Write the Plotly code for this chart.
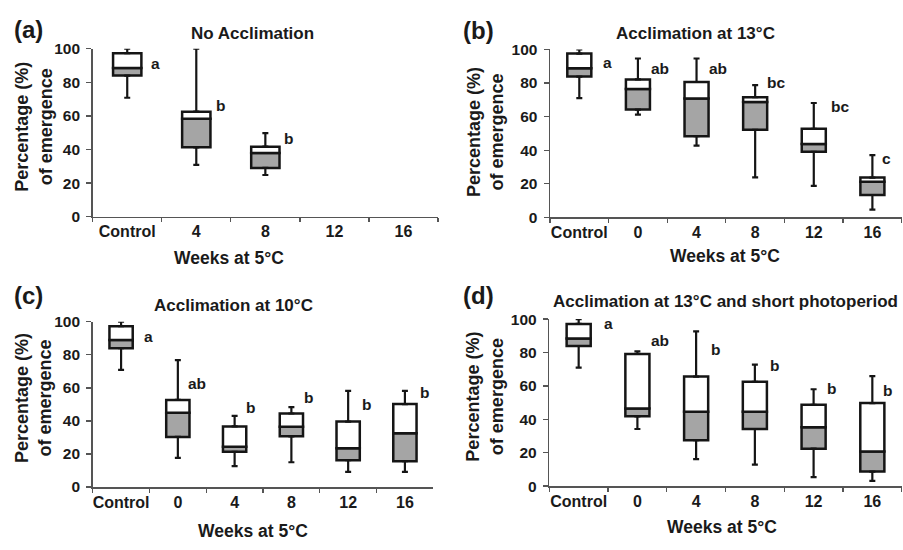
import plotly.graph_objects as go

# ---------------- data ----------------
cats_a = ["Control", "4", "8", "12", "16"]
cats_bcd = ["Control", "0", "4", "8", "12", "16"]

# Panel (a) No Acclimation (only Control, 4, 8 have data)
a_x = ["Control", "4", "8"]
a_max = [100, 100, 49.8]
a_q3 = [97.3, 62.5, 41.7]
a_med = [88.5, 58.3, 37.9]
a_q1 = [84.0, 41.3, 29.0]
a_min = [70.8, 30.8, 24.8]
a_letters = ["a", "b", "b"]

# Panel (b) Acclimation at 13°C
b_max = [100, 94.6, 94.6, 78.7, 68.1, 37.1]
b_q3 = [97.5, 82.1, 80.6, 71.5, 52.7, 23.7]
b_med = [88.8, 76.5, 70.8, 68.7, 43.7, 21.2]
b_q1 = [83.8, 64.2, 48.3, 52.1, 39.0, 13.3]
b_min = [71.0, 61.2, 42.7, 23.8, 18.7, 4.6]
b_letters = ["a", "ab", "ab", "bc", "bc", "c"]

# Panel (c) Acclimation at 10°C
c_max = [100, 76.8, 43.0, 48.4, 58.2, 58.2]
c_q3 = [97.3, 52.7, 36.7, 44.5, 39.6, 50.2]
c_med = [88.9, 44.9, 24.4, 36.5, 23.4, 32.6]
c_q1 = [84.0, 30.3, 21.3, 30.7, 16.2, 15.6]
c_min = [70.9, 17.6, 12.7, 15.0, 9.2, 9.2]
c_letters = ["a", "ab", "b", "b", "b", "b"]

# Panel (d) Acclimation at 13°C and short photoperiod
d_max = [100, 80.7, 92.6, 72.7, 58.0, 65.8]
d_q3 = [97.1, 79.1, 65.6, 62.5, 48.7, 49.7]
d_med = [88.4, 46.4, 44.5, 44.5, 35.2, 20.7]
d_q1 = [83.9, 41.8, 27.5, 34.2, 22.4, 8.7]
d_min = [71.0, 34.2, 16.2, 12.8, 5.4, 3.1]
d_letters = ["a", "ab", "b", "b", "b", "b"]

# letter label placement (offset from category centre, and height)
a_let_dx = [0.31, 0.25, 0.24]
a_let_y = [91, 66, 46.3]
b_let_dx = [0.37, 0.19, 0.18, 0.17, 0.26, 0.13]
b_let_y = [92.3, 88.5, 88.5, 80.2, 66, 35.2]
c_let_dx = [0.36, 0.15, 0.17, 0.19, 0.21, 0.23]
c_let_y = [90.8, 62.5, 47.9, 54.1, 49.8, 57.2]
d_let_dx = [0.40, 0.20, 0.22, 0.22, 0.20, 0.14]
d_let_y = [97.5, 87, 82, 72, 58.4, 57.4]

titles = ["No Acclimation", "Acclimation at 13°C", "Acclimation at 10°C",
          "Acclimation at 13°C and short photoperiod"]
panel_tags = ["(a)", "(b)", "(c)", "(d)"]
x_title = "Weeks at 5°C"
y_title = "Percentage (%)<br>of emergence"
y_ticks = [0, 20, 40, 60, 80, 100]

# ---------------- style / layout ----------------
W, H = 903, 550
FONT = "Liberation Sans, Arial, Helvetica, sans-serif"
TXT = "#1a1a1a"
GRAY = "#a5a5a5"
BOX_LINE = "#151515"


def px(x):
    return x / W


def py(y):
    return 1 - y / H


panels = [
    dict(x=a_x, cats=cats_a, mx=a_max, q3=a_q3, med=a_med, q1=a_q1, mn=a_min,
         letters=a_letters, ldx=a_let_dx, ly=a_let_y,
         dom_x=(92.7, 438.0), dom_y=(41.0, 214.3),
         title=(252, 25, "center"), tag_pos=(28, 21), xt_pos=(229, 257), yt_pos=(33.5, 122)),
    dict(x=cats_bcd, cats=cats_bcd, mx=b_max, q3=b_q3, med=b_med, q1=b_q1, mn=b_min,
         letters=b_letters, ldx=b_let_dx, ly=b_let_y,
         dom_x=(550.0, 901.7), dom_y=(41.7, 215.0),
         title=(695, 25, "center"), tag_pos=(479, 22), xt_pos=(725, 255), yt_pos=(485, 127)),
    dict(x=cats_bcd, cats=cats_bcd, mx=c_max, q3=c_q3, med=c_med, q1=c_q1, mn=c_min,
         letters=c_letters, ldx=c_let_dx, ly=c_let_y,
         dom_x=(92.7, 433.3), dom_y=(322.7, 493.3),
         title=(234, 306, "center"), tag_pos=(28, 296), xt_pos=(253, 539), yt_pos=(33.5, 402)),
    dict(x=cats_bcd, cats=cats_bcd, mx=d_max, q3=d_q3, med=d_med, q1=d_q1, mn=d_min,
         letters=d_letters, ldx=d_let_dx, ly=d_let_y,
         dom_x=(549.3, 901.7), dom_y=(320.0, 492.3),
         title=(725, 301.5, "center"), tag_pos=(479, 296), xt_pos=(722, 535), yt_pos=(485, 400)),
]

fig = go.Figure()
layout = dict(
    width=W, height=H, margin=dict(l=0, r=0, t=0, b=0),
    paper_bgcolor="white", plot_bgcolor="white",
    showlegend=False, barmode="overlay",
    font=dict(family=FONT, color=TXT, size=15, weight="bold"),
)
annotations = []

for i, p in enumerate(panels):
    n = "" if i == 0 else str(i + 1)
    xa, ya = "x" + n, "y" + n
    cat_idx = {c: k for k, c in enumerate(p["cats"])}

    lower_h = [m - q for m, q in zip(p["med"], p["q1"])]
    upper_h = [q - m for q, m in zip(p["q3"], p["med"])]
    # lower half of box (Q1 -> median), grey
    fig.add_trace(go.Bar(x=p["x"], y=lower_h, base=p["q1"], width=0.41,
                         marker=dict(color=GRAY, line=dict(color=BOX_LINE, width=2.5)),
                         xaxis=xa, yaxis=ya, hoverinfo="skip"))
    # upper half of box (median -> Q3), white
    fig.add_trace(go.Bar(x=p["x"], y=upper_h, base=p["med"], width=0.41,
                         marker=dict(color="white", line=dict(color=BOX_LINE, width=2.5)),
                         xaxis=xa, yaxis=ya, hoverinfo="skip"))
    # upper whisker
    fig.add_trace(go.Scatter(
        x=p["x"], y=p["q3"], mode="markers",
        marker=dict(size=1, color="rgba(0,0,0,0)"),
        error_y=dict(type="data", symmetric=False,
                     array=[a - b for a, b in zip(p["mx"], p["q3"])],
                     arrayminus=[0] * len(p["x"]),
                     color=BOX_LINE, thickness=2.2, width=3),
        cliponaxis=False, xaxis=xa, yaxis=ya, hoverinfo="skip"))
    # lower whisker
    fig.add_trace(go.Scatter(
        x=p["x"], y=p["q1"], mode="markers",
        marker=dict(size=1, color="rgba(0,0,0,0)"),
        error_y=dict(type="data", symmetric=False,
                     array=[0] * len(p["x"]),
                     arrayminus=[a - b for a, b in zip(p["q1"], p["mn"])],
                     color=BOX_LINE, thickness=2.2, width=3),
        cliponaxis=False, xaxis=xa, yaxis=ya, hoverinfo="skip"))

    x0, x1 = p["dom_x"]
    yt, yb = p["dom_y"]
    layout["xaxis" + n] = dict(
        domain=[px(x0), px(x1)], anchor=ya, type="category",
        categoryorder="array", categoryarray=p["cats"],
        range=[-0.5, len(p["cats"]) - 0.5],
        tickson="boundaries", ticks="outside", ticklen=4, tickwidth=1.3,
        tickangle=0,
        tickcolor="#555", showline=True, linecolor="#555", linewidth=1.5,
        showgrid=False, zeroline=False, fixedrange=True,
        tickfont=dict(family=FONT, size=16, color=TXT, weight="bold"),
    )
    layout["yaxis" + n] = dict(
        domain=[py(yb), py(yt)], anchor=xa, range=[0, 100],
        tickmode="array", tickvals=y_ticks, ticks="outside", ticklen=5,
        tickwidth=1.3, tickcolor="#555", showline=True, linecolor="#555",
        linewidth=1.5, showgrid=False, zeroline=False, fixedrange=True,
        ticklabelstandoff=3,
        tickfont=dict(family=FONT, size=15.5, color=TXT, weight="bold"),
    )

    # significance letters
    for k, xc in enumerate(p["x"]):
        annotations.append(dict(
            x=cat_idx[xc] + p["ldx"][k], y=p["ly"][k], xref=xa, yref=ya,
            text=p["letters"][k], showarrow=False, xanchor="left", yanchor="middle",
            font=dict(family=FONT, size=15.5, color=TXT, weight="bold")))

    # panel title
    tx, ty, tanchor = p["title"]
    annotations.append(dict(
        x=px(tx), y=py(ty), xref="paper", yref="paper",
        text=titles[i], showarrow=False, xanchor=tanchor, yanchor="middle",
        font=dict(family=FONT, size=17, color=TXT, weight="bold")))
    # panel tag
    annotations.append(dict(
        x=px(p["tag_pos"][0]), y=py(p["tag_pos"][1]), xref="paper", yref="paper",
        text=panel_tags[i], showarrow=False, xanchor="center", yanchor="middle",
        font=dict(family=FONT, size=24, color=TXT, weight="bold")))
    # x axis title
    annotations.append(dict(
        x=px(p["xt_pos"][0]), y=py(p["xt_pos"][1]), xref="paper", yref="paper",
        text=x_title, showarrow=False, xanchor="center", yanchor="middle",
        font=dict(family=FONT, size=17.5, color=TXT, weight="bold")))
    # y axis title
    annotations.append(dict(
        x=px(p["yt_pos"][0]), y=py(p["yt_pos"][1]), xref="paper", yref="paper",
        text=y_title, showarrow=False, xanchor="center", yanchor="middle",
        textangle=-90,
        font=dict(family=FONT, size=18, color=TXT, weight="bold")))

layout["annotations"] = annotations
fig.update_layout(**layout)
fig.write_html(
    "out.html",
    config={"displayModeBar": False, "staticPlot": True},
    post_script="document.body.style.margin='0px';"
                "document.body.style.overflow='hidden';"
                "document.documentElement.style.overflow='hidden';",
)
